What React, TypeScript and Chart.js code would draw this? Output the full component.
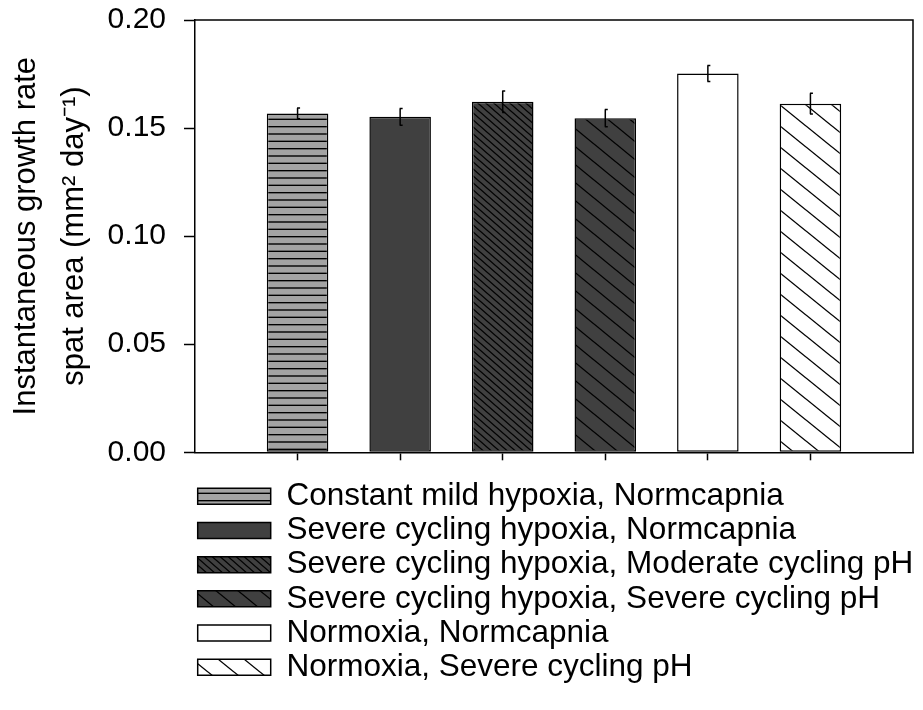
import React, { useEffect, useRef } from "react";
import { Chart, registerables } from "chart.js";

Chart.register(...registerables);

// ---- data ----
const treatments = [
  "Constant mild hypoxia, Normcapnia",
  "Severe cycling hypoxia, Normcapnia",
  "Severe cycling hypoxia, Moderate cycling pH",
  "Severe cycling hypoxia, Severe cycling pH",
  "Normoxia, Normcapnia",
  "Normoxia, Severe cycling pH",
];
const growthRate = [0.1568, 0.1552, 0.1622, 0.1546, 0.1753, 0.1613];
const standardError = [0.0025, 0.0039, 0.005, 0.004, 0.0037, 0.0048];
const yTicks = [0, 0.05, 0.1, 0.15, 0.2];
const yTitle = ["Instantaneous growth rate", "spat area (mm\u00B2 day\u207B\u00B9)"];

const FONT = "Arial, 'Liberation Sans', sans-serif";

type Fill = { bg: string; kind: "none" | "h" | "d"; a?: number; b?: number };
const fills: Fill[] = [
  { bg: "#a3a3a3", kind: "h" },
  { bg: "#404040", kind: "none" },
  { bg: "#404040", kind: "d", a: 8, b: 7 },
  { bg: "#404040", kind: "d", a: 22, b: 18 },
  { bg: "#ffffff", kind: "none" },
  { bg: "#ffffff", kind: "d", a: 26, b: 21 },
];

function makeFill(f: Fill): string | CanvasPattern {
  if (f.kind === "none") return f.bg;
  const c = document.createElement("canvas");
  if (f.kind === "h") {
    c.width = 4;
    c.height = 22;
    const g = c.getContext("2d")!;
    g.fillStyle = f.bg;
    g.fillRect(0, 0, c.width, c.height);
    g.strokeStyle = "#000";
    g.lineWidth = 1.4;
    for (const yy of [2, 9.33, 16.67]) {
      g.beginPath();
      g.moveTo(0, yy);
      g.lineTo(4, yy);
      g.stroke();
    }
  } else {
    const a = f.a!, b = f.b!;
    c.width = a;
    c.height = b;
    const g = c.getContext("2d")!;
    g.fillStyle = f.bg;
    g.fillRect(0, 0, a, b);
    g.strokeStyle = "#000";
    g.lineWidth = 1.3;
    for (const k of [-1, 0, 1]) {
      g.beginPath();
      g.moveTo(-2, (b / a) * -2 + k * b);
      g.lineTo(a + 2, (b / a) * (a + 2) + k * b);
      g.stroke();
    }
  }
  const ctx = document.createElement("canvas").getContext("2d")!;
  return ctx.createPattern(c, "repeat")!;
}

const errorBars = {
  id: "errorBars",
  afterDatasetsDraw(chart: any) {
    const ctx = chart.ctx;
    const y = chart.scales.y;
    ctx.save();
    ctx.strokeStyle = "#000";
    ctx.lineWidth = 1.5;
    chart.data.datasets.forEach((_: any, i: number) => {
      const el = chart.getDatasetMeta(i).data[0];
      if (!el) return;
      const x = el.x;
      const top = y.getPixelForValue(growthRate[i] + standardError[i]);
      const bot = y.getPixelForValue(growthRate[i] - standardError[i]);
      ctx.beginPath();
      ctx.moveTo(x, top);
      ctx.lineTo(x, bot);
      ctx.moveTo(x - 0.5, top);
      ctx.lineTo(x + 2.5, top);
      ctx.moveTo(x - 0.5, bot);
      ctx.lineTo(x + 2.5, bot);
      ctx.stroke();
    });
    ctx.restore();
  },
};

const frame = {
  id: "frame",
  afterDraw(chart: any) {
    const { ctx, chartArea: a } = chart;
    ctx.save();
    ctx.strokeStyle = "#000";
    ctx.lineWidth = 1.5;
    ctx.beginPath();
    ctx.moveTo(a.left, a.top);
    ctx.lineTo(a.right, a.top);
    ctx.lineTo(a.right, a.bottom);
    ctx.stroke();
    ctx.restore();
  },
};

export default function App() {
  const ref = useRef<HTMLCanvasElement>(null);
  useEffect(() => {
    if (!ref.current) return;
    const datasets = treatments.map((label, i) => ({
      label,
      data: [{ x: i + 1, y: growthRate[i] }],
      backgroundColor: makeFill(fills[i]),
      borderColor: "#000",
      borderWidth: 1.5,
      borderSkipped: false,
      barPercentage: 0.6,
      categoryPercentage: 1,
    }));
    const chart = new Chart(ref.current, {
      type: "bar",
      data: { datasets } as any,
      plugins: [errorBars, frame],
      options: {
        animation: false,
        responsive: false,
        layout: { padding: { top: 20, right: 10, bottom: 17, left: 0 } },
        plugins: {
          tooltip: { enabled: false },
          legend: {
            position: "bottom",
            align: "start",
            fullSize: false,
            labels: {
              boxWidth: 73,
              boxHeight: 16,
              padding: 2.7,
              color: "#000",
              font: { size: 31.5, family: FONT },
            },
          },
        },
        scales: {
          x: {
            type: "linear",
            min: 0,
            max: 7,
            offset: false,
            stacked: true,
            afterBuildTicks: (s: any) => {
              s.ticks = treatments.map((_, i) => ({ value: i + 1 }));
            },
            afterFit: (s: any) => {
              s.height = 25.5;
            },
            ticks: { display: false },
            grid: {
              offset: false,
              drawOnChartArea: false,
              drawTicks: true,
              tickLength: 8,
              tickWidth: 1.5,
              tickColor: "#000",
            },
            border: { display: true, color: "#000", width: 1.5 },
          },
          y: {
            type: "linear",
            min: 0,
            max: 0.2,
            afterBuildTicks: (s: any) => {
              s.ticks = yTicks.map((v) => ({ value: v }));
            },
            afterFit: (s: any) => {
              s.width = 195;
              s.paddingTop = 0;
              s.paddingBottom = 0;
            },
            ticks: {
              color: "#000",
              padding: 18,
              font: { size: 30, family: FONT },
              callback: (v: any) => Number(v).toFixed(2),
            },
            grid: {
              drawOnChartArea: false,
              drawTicks: true,
              tickLength: 11,
              tickWidth: 1.5,
              tickColor: "#000",
            },
            border: { display: true, color: "#000", width: 1.5 },
            title: {
              display: true,
              text: yTitle,
              color: "#000",
              font: { size: 31, family: FONT, lineHeight: 1.55 },
              padding: { top: 2, bottom: 0 },
            },
          },
        },
      },
    } as any);
    return () => chart.destroy();
  }, []);
  return (
    <div style={{ position: "absolute", left: 0, top: 0, width: 923, height: 710 }}>
      <canvas ref={ref} width={923} height={710} style={{ display: "block" }} />
    </div>
  );
}
